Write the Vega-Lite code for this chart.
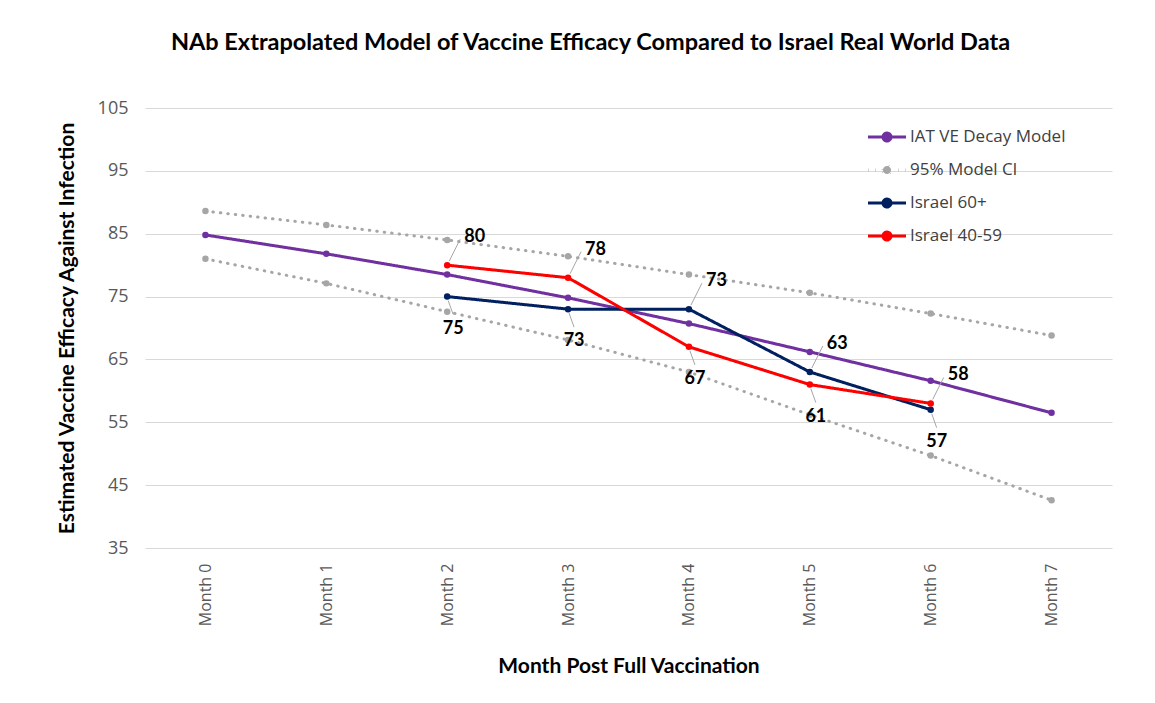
{
  "$schema": "https://vega.github.io/schema/vega-lite/v6.json",
  "width": 967,
  "height": 440,
  "autosize": "none",
  "padding": {"left": 145, "top": 108, "right": 43, "bottom": 155},
  "background": "white",
  "title": {
    "text": "NAb Extrapolated Model of Vaccine Efficacy Compared to Israel Real World Data",
    "font": "Lato", "fontSize": 23.5, "fontWeight": "bold", "color": "#000000",
    "anchor": "middle", "dx": -38, "offset": 45
  },
  "config": {
    "view": {"stroke": null},
    "legend": {"padding": 0}
  },
  "data": {
    "values": [
      {"month": "Month 0", "series": "IAT VE Decay Model", "line": "model", "value": 84.8},
      {"month": "Month 1", "series": "IAT VE Decay Model", "line": "model", "value": 81.8},
      {"month": "Month 2", "series": "IAT VE Decay Model", "line": "model", "value": 78.5},
      {"month": "Month 3", "series": "IAT VE Decay Model", "line": "model", "value": 74.8},
      {"month": "Month 4", "series": "IAT VE Decay Model", "line": "model", "value": 70.7},
      {"month": "Month 5", "series": "IAT VE Decay Model", "line": "model", "value": 66.2},
      {"month": "Month 6", "series": "IAT VE Decay Model", "line": "model", "value": 61.6},
      {"month": "Month 7", "series": "IAT VE Decay Model", "line": "model", "value": 56.5},
      {"month": "Month 0", "series": "95% Model Cl", "line": "upper", "value": 88.6},
      {"month": "Month 1", "series": "95% Model Cl", "line": "upper", "value": 86.4},
      {"month": "Month 2", "series": "95% Model Cl", "line": "upper", "value": 84.0},
      {"month": "Month 3", "series": "95% Model Cl", "line": "upper", "value": 81.4},
      {"month": "Month 4", "series": "95% Model Cl", "line": "upper", "value": 78.5},
      {"month": "Month 5", "series": "95% Model Cl", "line": "upper", "value": 75.6},
      {"month": "Month 6", "series": "95% Model Cl", "line": "upper", "value": 72.3},
      {"month": "Month 7", "series": "95% Model Cl", "line": "upper", "value": 68.8},
      {"month": "Month 0", "series": "95% Model Cl", "line": "lower", "value": 81.0},
      {"month": "Month 1", "series": "95% Model Cl", "line": "lower", "value": 77.1},
      {"month": "Month 2", "series": "95% Model Cl", "line": "lower", "value": 72.6},
      {"month": "Month 3", "series": "95% Model Cl", "line": "lower", "value": 68.1},
      {"month": "Month 4", "series": "95% Model Cl", "line": "lower", "value": 63.0},
      {"month": "Month 5", "series": "95% Model Cl", "line": "lower", "value": 56.2},
      {"month": "Month 6", "series": "95% Model Cl", "line": "lower", "value": 49.7},
      {"month": "Month 7", "series": "95% Model Cl", "line": "lower", "value": 42.6},
      {"month": "Month 2", "series": "Israel 60+", "line": "i60", "value": 75},
      {"month": "Month 3", "series": "Israel 60+", "line": "i60", "value": 73},
      {"month": "Month 4", "series": "Israel 60+", "line": "i60", "value": 73},
      {"month": "Month 5", "series": "Israel 60+", "line": "i60", "value": 63},
      {"month": "Month 6", "series": "Israel 60+", "line": "i60", "value": 57},
      {"month": "Month 2", "series": "Israel 40-59", "line": "i40", "value": 80},
      {"month": "Month 3", "series": "Israel 40-59", "line": "i40", "value": 78},
      {"month": "Month 4", "series": "Israel 40-59", "line": "i40", "value": 67},
      {"month": "Month 5", "series": "Israel 40-59", "line": "i40", "value": 61},
      {"month": "Month 6", "series": "Israel 40-59", "line": "i40", "value": 58}
    ]
  },
  "encoding": {
    "x": {
      "field": "month", "type": "ordinal",
      "scale": {"type": "point", "padding": 0.5},
      "axis": {
        "title": "Month Post Full Vaccination",
        "titleFont": "Lato", "titleFontSize": 21, "titleFontWeight": "bold", "titleColor": "#000000",
        "titlePadding": 30,
        "labelAngle": -90, "labelFont": "Open Sans", "labelFontSize": 16, "labelColor": "#595959",
        "labelPadding": 15, "ticks": false, "domain": false, "grid": false
      }
    },
    "y": {
      "field": "value", "type": "quantitative",
      "scale": {"domain": [35, 105], "nice": false, "zero": false},
      "axis": {
        "title": "Estimated Vaccine Efficacy Against Infection",
        "titleFont": "Lato", "titleFontSize": 21, "titleFontWeight": "bold", "titleColor": "#000000",
        "titlePadding": 20,
        "values": [35, 45, 55, 65, 75, 85, 95, 105],
        "labelFont": "Open Sans", "labelFontSize": 18, "labelColor": "#595959",
        "labelPadding": 17, "ticks": false, "domain": false,
        "grid": true, "gridColor": "#D9D9D9", "gridWidth": 1
      }
    }
  },
  "layer": [
    {
      "mark": {"type": "line", "strokeWidth": 3, "strokeCap": "round", "strokeJoin": "round"},
      "encoding": {
        "detail": {"field": "line"},
        "color": {
          "field": "series", "type": "nominal",
          "scale": {
            "domain": ["IAT VE Decay Model", "95% Model Cl", "Israel 60+", "Israel 40-59"],
            "range": ["#7030A0", "#A6A6A6", "#002060", "#FF0000"]
          },
          "legend": {
            "title": null, "orient": "none", "legendX": 731, "legendY": 18,
            "symbolType": "M-2,0H2M-0.42,0A0.42,0.42 0 1,1 0.42,0A0.42,0.42 0 1,1 -0.42,0Z",
            "symbolSize": 361, "symbolStrokeWidth": 3,
            "labelFont": "Open Sans", "labelFontSize": 17, "labelColor": "#404040",
            "labelOffset": 12, "rowPadding": 12,
            "encode": {"symbols": {"update": {"fill": {"scale": "color", "field": "value"}, "fillOpacity": {"value": 1}}}}
          }
        },
        "strokeDash": {
          "field": "series", "type": "nominal",
          "scale": {
            "domain": ["IAT VE Decay Model", "95% Model Cl", "Israel 60+", "Israel 40-59"],
            "range": [[1, 0], [0.5, 7], [1, 0], [1, 0]]
          },
          "legend": null
        }
      }
    },
    {
      "mark": {"type": "point", "filled": true, "size": 42, "opacity": 1},
      "encoding": {
        "color": {"field": "series", "type": "nominal", "legend": null}
      }
    },
    {
      "transform": [
        {"filter": "datum.series == 'Israel 60+' || datum.series == 'Israel 40-59'"},
        {"joinaggregate": [{"op": "max", "field": "value", "as": "maxv"}], "groupby": ["month"]},
        {"filter": "datum.value == datum.maxv"}
      ],
      "layer": [
        {
          "mark": {"type": "rule", "color": "#A6A6A6", "strokeWidth": 1, "xOffset": 2, "yOffset": -4, "x2Offset": 13, "y2Offset": -26},
          "encoding": {"x2": {"field": "month"}, "y2": {"field": "value"}}
        },
        {
          "mark": {"type": "text", "font": "Lato", "fontSize": 18, "fontWeight": "bold", "color": "#000000", "align": "left", "baseline": "middle", "dx": 17, "dy": -28},
          "encoding": {"text": {"field": "value", "type": "quantitative", "format": ".0f"}}
        }
      ]
    },
    {
      "transform": [
        {"filter": "datum.series == 'Israel 60+' || datum.series == 'Israel 40-59'"},
        {"joinaggregate": [{"op": "min", "field": "value", "as": "minv"}], "groupby": ["month"]},
        {"filter": "datum.value == datum.minv"}
      ],
      "layer": [
        {
          "mark": {"type": "rule", "color": "#A6A6A6", "strokeWidth": 1, "xOffset": 1, "yOffset": 4, "x2Offset": 6, "y2Offset": 18},
          "encoding": {"x2": {"field": "month"}, "y2": {"field": "value"}}
        },
        {
          "mark": {"type": "text", "font": "Lato", "fontSize": 18, "fontWeight": "bold", "color": "#000000", "align": "center", "baseline": "middle", "dx": 6, "dy": 32},
          "encoding": {"text": {"field": "value", "type": "quantitative", "format": ".0f"}}
        }
      ]
    }
  ]
}
